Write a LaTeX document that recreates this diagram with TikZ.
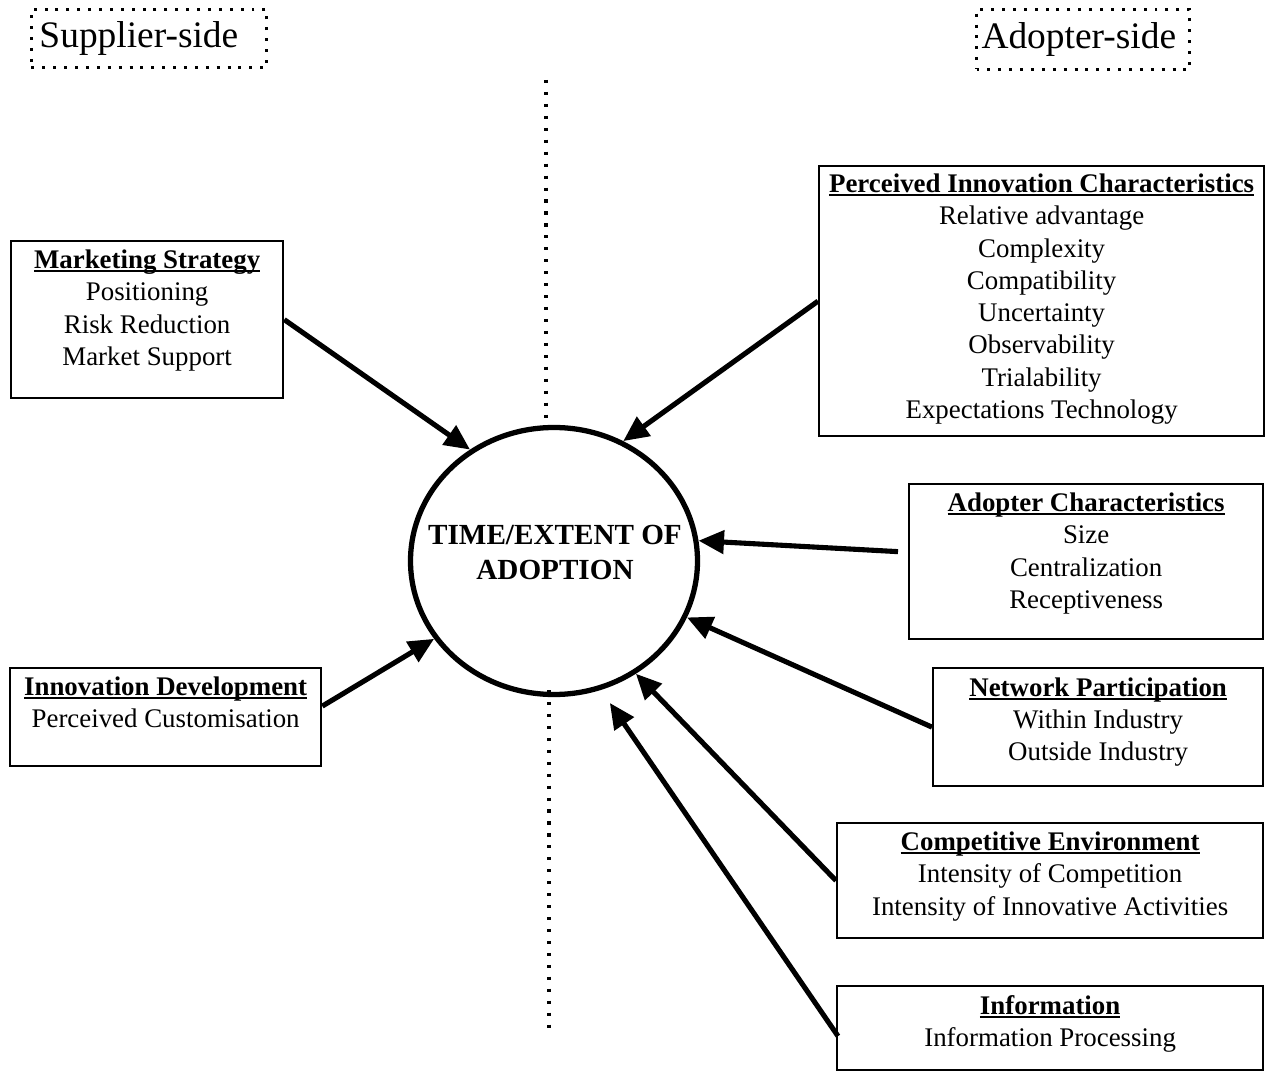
\documentclass[tikz,border=0pt]{standalone}
\usepackage{fontspec}
\setmainfont{Liberation Serif}
\usetikzlibrary{arrows.meta,shapes.geometric,calc}
\def\pxu{0.02cm}
\newcommand\bodyfont{\fontsize{15.3}{18.37}\selectfont}
\newcommand\hd[1]{\setbox0\hbox{\textbf{#1}}\rlap{\rule[-2.2pt]{\wd0}{1.1pt}}\box0}
\begin{document}
\begin{tikzpicture}[x=0.02cm,y=-0.02cm,
  box/.style={draw, line width=1.3pt, inner sep=0pt, anchor=north west},
  boxtext/.style={anchor=north, inner sep=0pt, align=center, font=\bodyfont},
  sidebox/.style={draw, line width=1.7pt, dash pattern=on 1.7pt off 4.5pt, anchor=north west, inner ysep=0pt, align=left, font=\fontsize{21.3}{25}\selectfont},
  arr/.style={line width=2.9pt, -{Triangle[length=14.5pt,width=13pt]}},
  divider/.style={line width=1.8pt, dash pattern=on 1.8pt off 5pt},
]
\useasboundingbox (0,0) rectangle (1272,1071);

% side labels
\node[sidebox, text width=219*\pxu, inner xsep=8*\pxu, minimum height=58*\pxu] (sup) at (30,8) {Supplier-side};
\node[sidebox, text width=203*\pxu, inner xsep=5*\pxu, minimum height=60*\pxu] (ads) at (975,8) {Adopter-side};

% dividers
\coordinate (d1a) at (546,80); \coordinate (d1b) at (546,423);
\coordinate (d2a) at (549,690); \coordinate (d2b) at (549,1035);
\draw[divider] (d1a) -- (d1b);
\draw[divider] (d2a) -- (d2b);

% central ellipse
\node[ellipse, draw, line width=3pt, minimum width=287*\pxu, minimum height=267*\pxu, inner sep=0pt] (circ) at (554,561) {};
\node[align=center, font=\fontsize{16.6}{19.8}\selectfont\bfseries, inner sep=0pt] (circT) at (555,552.5) {TIME/EXTENT OF\\ADOPTION};

% boxes
\node[box, minimum width=272*\pxu, minimum height=157*\pxu] (mkt) at (10,240) {};
\node[boxtext] (mktT) at ([yshift=-9.5*\pxu]mkt.north) {\hd{Marketing Strategy}\\Positioning\\Risk Reduction\\Market Support};

\node[box, minimum width=311*\pxu, minimum height=98*\pxu] (innov) at (9,667) {};
\node[boxtext] (innovT) at ([yshift=-9.5*\pxu]innov.north) {\hd{Innovation Development}\\Perceived Customisation};

\node[box, minimum width=445*\pxu, minimum height=270*\pxu] (perc) at (818,165) {};
\node[boxtext] (percT) at ([yshift=-8.5*\pxu]perc.north) {\hd{Perceived Innovation Characteristics}\\Relative advantage\\Complexity\\Compatibility\\Uncertainty\\Observability\\Trialability\\Expectations Technology};

\node[box, minimum width=354*\pxu, minimum height=155*\pxu] (adop) at (908,483) {};
\node[boxtext] (adopT) at ([yshift=-9.5*\pxu]adop.north) {\hd{Adopter Characteristics}\\Size\\Centralization\\Receptiveness};

\node[box, minimum width=330*\pxu, minimum height=118*\pxu] (net) at (932,667) {};
\node[boxtext] (netT) at ([yshift=-10*\pxu]net.north) {\hd{Network Participation}\\Within Industry\\Outside Industry};

\node[box, minimum width=426*\pxu, minimum height=115*\pxu] (comp) at (836,822) {};
\node[boxtext] (compT) at ([yshift=-9.5*\pxu]comp.north) {\hd{Competitive Environment}\\Intensity of Competition\\Intensity of Innovative Activities};

\node[box, minimum width=426*\pxu, minimum height=84*\pxu] (info) at (836,985) {};
\node[boxtext] (infoT) at ([yshift=-10*\pxu]info.north) {\hd{Information}\\Information Processing};

% arrows
\draw[arr] (mkt.east) -- (circ.127);
\draw[arr] (perc.west) -- (circ.60);
\draw[arr] ($(adop.west)+(-10,-10)$) -- (circ.8);
\draw[arr] (net.west) -- (circ.337);
\draw[arr] ($(innov.east)+(0,-11)$) -- (circ.213);
\draw[arr] (comp.west) -- (circ.306);
\draw[arr, shorten >=9pt] ($(info.west)+(2,8)$) -- (circ.290);
\end{tikzpicture}
\end{document}
